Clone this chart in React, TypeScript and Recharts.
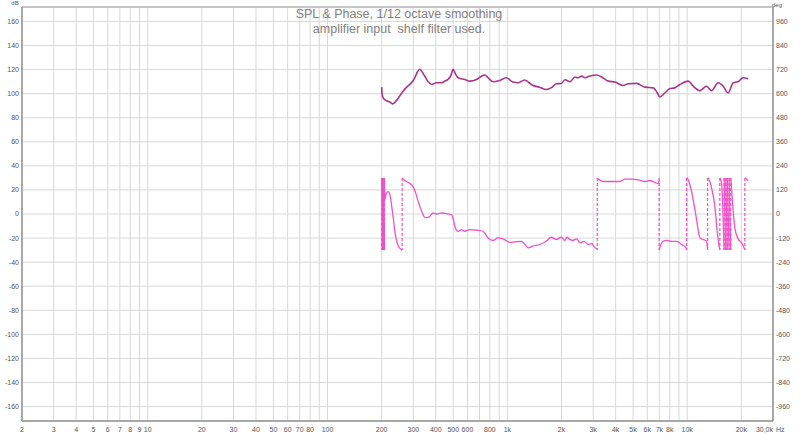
import React from "react";
import {
  ComposedChart,
  Line,
  XAxis,
  YAxis,
  CartesianGrid,
  ReferenceLine,
} from "recharts";

// frequency (Hz), SPL (dB)
const splPoints: [number, number][] = [
  [200, 105.4], [201, 100], [204, 96.3], [213, 94.1], [222, 93], [231, 91.5],
  [241, 94], [252, 98], [263, 102], [278, 106], [293, 109], [305, 113],
  [316, 118], [326, 120.3], [336, 118], [347, 114.6], [362, 110], [379, 107.6],
  [403, 109], [430, 109], [450, 110.5], [468, 111.8], [485, 115], [499, 120.3],
  [512, 117], [530, 113.5], [543, 112.7], [579, 111.8], [617, 110.4], [673, 111.8],
  [710, 114], [748, 115.5], [790, 112.5], [832, 109.9], [906, 111], [987, 113.2],
  [1074, 109.6], [1146, 109], [1248, 111.3], [1310, 109.5], [1387, 106.8],
  [1511, 105.4], [1645, 103.4], [1760, 105], [1871, 108.2], [1995, 108.5],
  [2093, 111.5], [2230, 109.9], [2377, 113.8], [2478, 113.2], [2588, 114.6],
  [2702, 113.2], [2879, 114.6], [3138, 115.5], [3345, 113.8], [3640, 110.4],
  [3965, 109.6], [4407, 106.8], [4699, 108.2], [5232, 108.5], [5821, 105.4],
  [6477, 104.8], [6800, 101], [7047, 97.2], [7516, 100.6], [8013, 104.2],
  [8544, 104.8], [9108, 107.6], [10136, 110.4], [10800, 106.2], [11770, 102.5],
  [12820, 106.2], [13670, 102.5], [14870, 109], [15850, 106.2], [16900, 100.6],
  [18030, 109], [19190, 109.9], [20470, 113.2], [21830, 112.4],
];

// frequency (Hz), phase (deg); null = wrap break
const phasePoints: [number, number | null][] = [
  [200, 180], [201.2, -180], [201.2, null],
  [201.2, 180], [202.4, -180], [202.4, null],
  [202.4, 180], [203.6, -180], [203.6, null],
  [203.6, 180], [204.8, -180], [204.8, null],
  [204.8, 180], [206, -180], [206, null],
  [206, 180], [207.2, -180], [207.2, null],
  [207.2, 180], [208, 70], [211, 95], [215, 110], [218, 112], [222, 100],
  [226, 55], [232, -20], [237, -90], [241, -127], [247, -158], [252, -170],
  [260, -180], [260, null],
  [260, 180], [263, 174], [275, 162], [293, 146], [300, 133], [305, 121],
  [315, 80], [326, 38], [337, 5], [347, -17], [358, -18], [370, -12], [386, 5],
  [403, 0], [430, 5], [458, 2], [489, -3], [500, -25], [510, -61], [521, -80],
  [532, -86], [555, -78], [579, -86], [617, -78], [673, -81], [732, -86],
  [755, -100], [780, -119], [832, -132], [887, -119], [946, -124], [1031, -141],
  [1099, -139], [1197, -136], [1250, -150], [1303, -169], [1387, -160],
  [1511, -152], [1645, -136], [1754, -116], [1871, -127], [1995, -116],
  [2093, -132], [2138, -116], [2230, -127], [2307, -132], [2430, -124],
  [2535, -144], [2668, -136], [2818, -152], [2943, -147], [3050, -165],
  [3162, -176], [3162, null],
  [3162, 179], [3204, 174], [3415, 162], [3640, 162], [3965, 162], [4227, 162],
  [4506, 174], [4910, 174], [5346, 170], [5821, 162], [6206, 167], [6616, 157],
  [6902, 151], [6984, 170], [6984, null],
  [6984, -180], [7150, -150], [7357, -136], [7684, -131], [8191, -136],
  [8732, -136], [9308, -152], [9840, -169], [9925, -178], [9925, null],
  [9925, 180], [10000, 179], [10350, 146], [10800, 71], [11280, -28],
  [11770, -119], [12270, -127], [12820, -136], [12980, -178], [12980, null],
  [12980, 180], [13090, 178], [13670, 129], [14250, 38], [14680, -86],
  [15070, -164], [15190, -178], [15190, null],
  [15190, 180], [15520, 155], [16030, -180], [16030, null],
  [16030, 180], [16380, -180], [16380, null],
  [16380, 180], [16720, -180], [16720, null],
  [16720, 180], [17100, -180], [17100, null],
  [17100, 180], [17470, -180], [17470, null],
  [17470, 180], [17870, 55], [18410, -70], [19190, -124], [20050, -144],
  [20500, -160], [20920, -178], [20920, null],
  [20920, 180], [21100, 178], [21830, 165],
];

// frequencies where the phase wraps (dashed verticals)
const wrapFreqs = [
  200, 201.2, 202.4, 203.6, 204.8, 206, 207.2, 260, 3162, 6984, 9925, 12980,
  15190, 16030, 16380, 16720, 17100, 17470, 20920,
];

const xTicks = [
  2, 3, 4, 5, 6, 7, 8, 9, 10, 20, 30, 40, 50, 60, 70, 80, 90, 100, 200, 300, 400,
  500, 600, 700, 800, 900, 1000, 2000, 3000, 4000, 5000, 6000, 7000, 8000, 9000,
  10000, 20000, 30000,
];
const xTickLabels = [
  "2", "3", "4", "5", "6", "7", "8", "9", "10", "20", "30", "40", "50", "60", "70",
  "80", "", "100", "200", "300", "400", "500", "600", "", "800", "", "1k", "2k",
  "3k", "4k", "5k", "6k", "7k", "8k", "", "10k", "20k", "30,0k",
];
const dbTicks = [
  -160, -140, -120, -100, -80, -60, -40, -20, 0, 20, 40, 60, 80, 100, 120, 140, 160,
];
const degTicks = [
  -960, -840, -720, -600, -480, -360, -240, -120, 0, 120, 240, 360, 480, 600, 720,
  840, 960,
];

const splData = splPoints.map(([f, v]) => ({ f, v }));
const phaseData = phasePoints.map(([f, v]) => ({ f, v }));
const wrapData = wrapFreqs.flatMap((f) => [
  { f, v: 180 },
  { f, v: -180 },
  { f, v: null },
]);

const FONT = "'Liberation Sans', Arial, sans-serif";
const TICK_COLOR = "#555";

const XTick = (props: any) => {
  const { x, y, payload } = props;
  const i = xTicks.indexOf(payload.value);
  const label = i >= 0 ? xTickLabels[i] : "";
  if (!label) return null;
  const ty = y + 7;
  if (payload.value === 30000) {
    return (
      <g>
        <text x={x} y={ty} textAnchor="end" dominantBaseline="middle" fontSize={7} fill={TICK_COLOR} fontFamily={FONT}>
          {label}
        </text>
        <text x={x + 3} y={ty} textAnchor="start" dominantBaseline="middle" fontSize={7} fill={TICK_COLOR} fontFamily={FONT}>
          Hz
        </text>
      </g>
    );
  }
  return (
    <text x={x} y={ty} textAnchor="middle" dominantBaseline="middle" fontSize={7} fill={TICK_COLOR} fontFamily={FONT}>
      {label}
    </text>
  );
};

export default function App() {
  document.body.style.margin = "0";
  const border = { stroke: "#a8a8a8", strokeWidth: 2 };
  return (
    <div style={{ position: "relative", width: 800, height: 435, background: "#fff" }}>
      <ComposedChart width={800} height={435} margin={{ top: 7, right: 0, bottom: 0, left: 0 }}>
        <CartesianGrid xAxisId="hz" yAxisId="db" stroke="#d8d8d8" />
        <XAxis
          xAxisId="hz"
          dataKey="f"
          type="number"
          scale="log"
          domain={[2, 30000]}
          ticks={xTicks}
          interval={0}
          allowDataOverflow
          height={14}
          tickLine={false}
          tickSize={0}
          tick={<XTick />}
          axisLine={border}
        />
        <YAxis
          yAxisId="db"
          domain={[-172, 172]}
          ticks={dbTicks}
          interval={0}
          allowDataOverflow
          width={22}
          tickLine={false}
          tickSize={1}
          tickMargin={2}
          tick={{ fontSize: 7, fill: TICK_COLOR, fontFamily: FONT }}
          axisLine={border}
        />
        <YAxis
          yAxisId="deg"
          orientation="right"
          domain={[-1032, 1032]}
          ticks={degTicks}
          interval={0}
          allowDataOverflow
          width={27}
          tickLine={false}
          tickSize={1}
          tickMargin={2}
          tick={{ fontSize: 7, fill: TICK_COLOR, fontFamily: FONT, textAnchor: "start" }}
          axisLine={border}
        />
        <ReferenceLine xAxisId="hz" yAxisId="db" y={172} stroke="#c4c4c4" strokeWidth={2} />
        <Line
          xAxisId="hz"
          yAxisId="deg"
          data={wrapData}
          dataKey="v"
          type="linear"
          stroke="#f050c8"
          strokeWidth={1.2}
          strokeDasharray="3 2"
          dot={false}
          activeDot={false}
          connectNulls={false}
          isAnimationActive={false}
        />
        <Line
          xAxisId="hz"
          yAxisId="deg"
          data={phaseData}
          dataKey="v"
          type="monotone"
          stroke="#f050c8"
          strokeWidth={1.3}
          dot={false}
          activeDot={false}
          connectNulls={false}
          isAnimationActive={false}
        />
        <Line
          xAxisId="hz"
          yAxisId="db"
          data={splData}
          dataKey="v"
          type="monotone"
          stroke="#a8358a"
          strokeWidth={1.6}
          dot={false}
          activeDot={false}
          isAnimationActive={false}
        />
      </ComposedChart>
      <svg width={800} height={435} style={{ position: "absolute", left: 0, top: 0, pointerEvents: "none" }}>
        <text x={15} y={5} textAnchor="middle" fontSize={6} fill={TICK_COLOR} fontFamily={FONT}>dB</text>
        <text x={777} y={7} textAnchor="middle" fontSize={6} fill={TICK_COLOR} fontFamily={FONT}>deg</text>
        <text x={399} y={18} textAnchor="middle" fontSize={12.5} fill="#808080" fontFamily={FONT}>
          SPL &amp; Phase, 1/12 octave smoothing
        </text>
        <text x={399} y={32.5} textAnchor="middle" fontSize={12.5} fill="#808080" fontFamily={FONT}>
          {"amplifier input\u00a0 shelf filter used."}
        </text>
      </svg>
    </div>
  );
}
